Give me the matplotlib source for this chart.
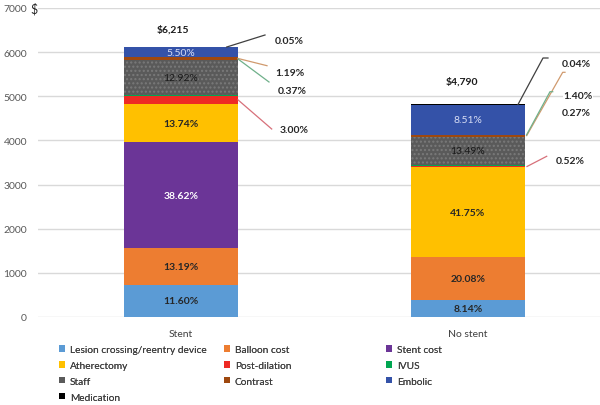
import matplotlib
matplotlib.use("Agg")
import matplotlib.pyplot as plt
import numpy as np
from matplotlib.patches import Patch

plt.rcParams['font.family'] = ['Lato', 'DejaVu Sans']

groups = ["Stent", "No stent"]
components = ["Lesion crossing/reentry device", "Balloon cost", "Stent cost",
              "Atherectomy", "Post-dilation", "IVUS", "Staff", "Contrast",
              "Embolic", "Medication"]
stent_cost = [726, 830, 2403, 865, 190, 23, 790, 60, 226, 3]
nostent_cost = [385, 969, 0, 2041, 29, 12, 650, 46, 680, 2]
stent_pct = ["11.60%", "13.19%", "38.62%", "13.74%", "3.00%", "0.37%", "12.92%", "1.19%", "5.50%", "0.05%"]
nostent_pct = ["8.14%", "20.08%", "", "41.75%", "0.52%", "0.27%", "13.49%", "1.40%", "8.51%", "0.04%"]
totals = ["$6,215", "$4,790"]

colors = ["#5b9bd5", "#ed7d31", "#6b3597", "#ffc000", "#ee2a24", "#00a651",
          "#5a5a5a", "#9e480e", "#3452a8", "#000000"]

W, H = 600, 406
fig = plt.figure(figsize=(W / 100, H / 100), dpi=100)
ax = fig.add_axes([37.5 / W, 88 / H, 574 / W, 309 / H])
ax.set_xlim(-0.5, 1.5)
ax.set_ylim(0, 7000)

def pxd(px, py):
    return ((px - 181) / 287.0, (318 - py) * 7000 / 309.0)

values = np.array([stent_cost, nostent_cost], dtype=float)
x = np.arange(len(groups))
bw = 0.4
bottom = np.zeros(len(groups))
handles = []
for j, name in enumerate(components):
    kw = dict(color=colors[j], width=bw, linewidth=0, zorder=3)
    if name == "Staff":
        kw.update(hatch="....", edgecolor="#7a7a7a")
    ax.bar(x, values[:, j], bottom=bottom, label=name, **kw)
    handles.append(Patch(facecolor=colors[j], label=name))
    bottom = bottom + values[:, j]

# in-bar percentage labels
inside = {0: [0, 1, 2, 3, 6, 8], 1: [0, 1, 3, 6, 8]}
pcts = [stent_pct, nostent_pct]
for g in range(2):
    cum = np.concatenate([[0], np.cumsum(values[g])])
    for j in inside[g]:
        yc = (cum[j] + cum[j + 1]) / 2
        col = "#262626"
        weight = "bold"
        if components[j] == "Stent cost":
            col = "white"
        if components[j] == "Embolic":
            col = "#d8def5"; weight = "normal"
        if components[j] == "Staff":
            weight = "normal"; col = "#1a1a1a"
        ax.text(x[g], yc, pcts[g][j], ha="center", va="center", fontsize=7.5,
                color=col, fontweight=weight, zorder=5)

# outside labels with leader lines (layout positions in pixels; start y None = segment)
lead_colors = {"Medication": "#404040", "Contrast": "#d09a6e", "IVUS": "#6fb08a",
               "Post-dilation": "#d7707a"}
outside = {
    0: {"Medication": ((226.7, None), [(265, 36)], (289, 41)),
        "Contrast": ((238, None), [(267, 66.7)], (289.5, 73)),
        "IVUS": ((238, 60), [(269, 83)], (292, 91)),
        "Post-dilation": ((238, None), [(271.7, 130)], (294.5, 131))},
    1: {"Medication": ((518, None), [(543, 59), (548, 59)], (576, 65)),
        "Contrast": ((526.7, None), [(562.7, 73.3), (565, 73.3)], (578, 97)),
        "IVUS": ((526.5, 136), [(550, 92.7), (552.7, 92.7)], (576, 114)),
        "Post-dilation": ((527, None), [(546.7, 157.3)], (570.5, 161.7))},
}
for g in range(2):
    cum = np.concatenate([[0], np.cumsum(values[g])])
    for name, (start, pts, lab) in outside[g].items():
        j = components.index(name)
        if start[1] is not None:
            xs, ys = pxd(*start)
        else:
            xs = pxd(start[0], 0)[0]
            ys = cum[j + 1] if name == "Medication" else (cum[j] + cum[j + 1]) / 2
        line = [(xs, ys)] + [pxd(*p) for p in pts]
        lx, ly = zip(*line)
        ax.plot(lx, ly, color=lead_colors[name], lw=0.9, zorder=4, clip_on=False)
        tx, ty = pxd(*lab)
        ax.text(tx, ty, pcts[g][j], ha="center", va="center", fontsize=7.5,
                fontweight="bold", color="#262626", zorder=5, clip_on=False,
                bbox=dict(facecolor="white", edgecolor="none", pad=0.5) if name == "Contrast" and g == 1 else None)

# totals
for g, (px, py) in enumerate([(173, 30), (462, 82)]):
    tx, ty = pxd(px, py)
    ax.text(tx, ty, totals[g], ha="center", va="center", fontsize=7.5,
            fontweight="bold", color="#1a1a1a")

# axes styling
ax.set_yticks(np.arange(0, 7001, 1000))
ax.tick_params(axis="y", length=0, pad=7.5, labelsize=7.5, labelcolor="#595959")
ax.set_xticks(x)
ax.set_xticklabels(groups)
ax.tick_params(axis="x", length=0, pad=9, labelsize=7.5, labelcolor="#404040")
for s in ax.spines.values():
    s.set_visible(False)
ax.yaxis.grid(True, color="#d9d9d9", lw=1, zorder=0)
ax.set_axisbelow(True)
fig.text(30 / W, 1 - 9 / H, "$", ha="left", va="center", fontsize=9, color="#262626")

# legend in three columns
cols = [[0, 3, 6, 9], [1, 4, 7], [2, 5, 8]]
xs_leg = [59, 224, 386]
for c, idx in enumerate(cols):
    leg = fig.legend(handles=[handles[i] for i in idx], loc="upper left",
                     bbox_to_anchor=(xs_leg[c] / W, 1 - 346 / H), frameon=False,
                     fontsize=7.3, handlelength=0.6, handleheight=0.6,
                     handletextpad=0.45, labelspacing=0.68, borderpad=0,
                     borderaxespad=0, labelcolor="#404040")
    fig.add_artist(leg)

fig.savefig("out.png", dpi=100)
